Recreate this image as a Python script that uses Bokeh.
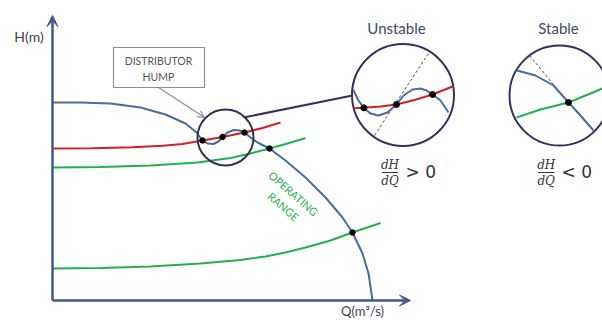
from bokeh.plotting import figure
from bokeh.models import Range1d, Arrow, VeeHead, OpenHead
from bokeh.core.properties import value
from bokeh.embed import file_html
from bokeh.resources import INLINE

# ---- main diagram (Q, H in drawing units) ----
axis_q = [0, 358]
axis_h = [0, 285]

pump_q = [0, 28, 58, 88, 113, 133, 138, 144, 150, 155, 161, 166, 170, 175, 181, 187,
          192, 198, 205, 211, 217, 233, 253, 273, 290, 300, 310, 316, 319, 320]
pump_h = [198, 198, 197, 193, 186, 177, 173, 168, 160, 157, 156.5, 159, 163, 168, 170.5, 170,
          168, 163, 158, 155, 152, 140, 123, 103, 83, 68, 47, 27, 7, 0]

system_red_q = [0, 40, 80, 110, 130, 150, 170, 192, 210, 228]
system_red_h = [152, 152.3, 153.2, 154.8, 156.5, 160, 163.5, 168, 172.5, 178]

system_g1_q = [0, 48, 98, 145, 178, 198, 217, 235, 253]
system_g1_h = [133, 133.5, 135, 138, 142.5, 147, 152, 157, 162.5]

system_g2_q = [0, 48, 98, 148, 188, 213, 233, 253, 278, 300, 328]
system_g2_h = [32, 32.5, 34, 37, 40.5, 44, 48, 53, 60, 68, 77.5]

op_q = [150, 170, 192, 217, 300]
op_h = [160, 163.5, 168, 152, 68]

# zoom circles: hump, unstable, stable
circ_q = [173, 350.5, 507]
circ_h = [163, 205.5, 205]
circ_r = [28, 51, 50]

link_q = [191, 300]
link_h = [183, 205]

callout_box = dict(left=61, right=152, bottom=213, top=253)
callout_arrow_q = [106, 152]
callout_arrow_h = [213, 183]

# ---- unstable inset ----
un_blue_q = [300.7, 306, 311.3, 318, 326, 335, 344, 351, 360, 368, 374, 380, 388, 396]
un_blue_h = [210.7, 200, 192.7, 187, 185, 188, 196, 205, 211, 212, 210, 206, 200, 188]
un_red_q = [301, 311.3, 328, 344, 362, 380, 400]
un_red_h = [192.3, 192.7, 194, 196, 200.5, 206, 214]
un_dot_q = [311.3, 344, 380]
un_dot_h = [192.7, 196, 206]
un_dash_q = [322, 376]
un_dash_h = [165, 247]

# ---- stable inset ----
st_blue_q = [464.7, 483, 501, 516, 528, 541]
st_blue_h = [230, 225, 215, 198, 185, 170]
st_green_q = [464, 488, 516, 538, 550]
st_green_h = [183, 191, 198, 207, 212]
st_dot_q = [516]
st_dot_h = [198]
st_dash_q = [477, 501]
st_dash_h = [245, 216]

AXIS = "#3d5b85"
BLUE = "#4a6c9c"
RED = "#d41f26"
GREEN = "#22b14c"
PURPLE = "#3a2e58"
TXT = "#3f4a66"
FONT = value("Lato")

p = figure(width=602, height=320, x_range=Range1d(-52, 550), y_range=Range1d(-20, 300),
           output_backend="svg", toolbar_location=None, min_border=0,
           x_axis_type=None, y_axis_type=None)
p.grid.visible = False
p.outline_line_color = None
p.background_fill_color = "white"

# axes with arrow heads
p.add_layout(Arrow(end=VeeHead(size=11, fill_color=AXIS, line_color=AXIS, line_width=1),
                   x_start=axis_q[0], y_start=axis_h[0], x_end=axis_q[0], y_end=axis_h[1],
                   line_color=AXIS, line_width=2.5))
p.add_layout(Arrow(end=VeeHead(size=11, fill_color=AXIS, line_color=AXIS, line_width=1),
                   x_start=axis_q[0], y_start=axis_h[0], x_end=axis_q[1], y_end=axis_h[0],
                   line_color=AXIS, line_width=2.5))

# system curves
p.line(system_g2_q, system_g2_h, line_color=GREEN, line_width=2)
p.line(system_g1_q, system_g1_h, line_color=GREEN, line_width=2)
p.line(system_red_q, system_red_h, line_color=RED, line_width=2)
# pump curve
p.line(pump_q, pump_h, line_color=BLUE, line_width=2, line_join="round")
p.scatter(op_q, op_h, size=5.5, color="black")

# callout box
p.quad(fill_color="white", line_color="#8e8e8e", line_width=1.2, **callout_box)
p.text(x=[106, 106], y=[240, 224], text=["DISTRIBUTOR", "HUMP"], text_font=FONT,
       text_font_size=value("10.5px"), text_color="#555555", text_align="center",
       text_baseline="middle")
p.add_layout(Arrow(end=OpenHead(size=7, line_color="#8a8a94", line_width=1.2),
                   x_start=callout_arrow_q[0], y_start=callout_arrow_h[0],
                   x_end=callout_arrow_q[1], y_end=callout_arrow_h[1],
                   line_color="#8a8a94", line_width=1.2))

# link line and circles
p.line(link_q, link_h, line_color=PURPLE, line_width=2)
p.circle(circ_q, circ_h, radius=circ_r, fill_color=None, line_color=PURPLE, line_width=2)

# unstable inset
p.line(un_dash_q, un_dash_h, line_color="#555555", line_width=1, line_dash="3 2")
p.line(un_red_q, un_red_h, line_color=RED, line_width=2)
p.line(un_blue_q, un_blue_h, line_color=BLUE, line_width=2, line_join="round")
p.scatter(un_dot_q, un_dot_h, size=6, color="black")

# stable inset
p.line(st_dash_q, st_dash_h, line_color="#555555", line_width=1, line_dash="3 2")
p.line(st_green_q, st_green_h, line_color=GREEN, line_width=2)
p.line(st_blue_q, st_blue_h, line_color=BLUE, line_width=2)
p.scatter(st_dot_q, st_dot_h, size=6, color="black")

# titles
p.text(x=[344, 506], y=[273, 273], text=["Unstable", "Stable"], text_font=FONT,
       text_font_size=value("15px"), text_color=TXT, text_align="center",
       text_baseline="middle")

# axis labels
p.text(x=[-23.5], y=[264], text=["H(m)"], text_font=FONT, text_font_size=value("14px"),
       text_color="#3c4150", text_align="center", text_baseline="middle")
p.text(x=[310], y=[-2.5], text=["Q(m³/s)"], text_font=FONT, text_font_size=value("13px"),
       text_color="#3c4150", text_align="center", text_baseline="top")

# operating range label
p.text(x=[241, 231], y=[107, 94], text=["OPERATING", "RANGE"], text_font=FONT,
       text_font_size=value("11px"), text_color=GREEN, text_align="center",
       text_baseline="middle", angle=-41, angle_units="deg")

# formulas
SERIF = value("DejaVu Serif")
p.text(x=[337.5, 337.5, 493.7, 493.7], y=[136, 119.5, 136, 119.5],
       text=["dH", "dQ", "dH", "dQ"], text_font=SERIF, text_font_style="italic",
       text_font_size=value("12px"), text_color="#333333", text_align="center",
       text_baseline="middle")
p.segment(x0=[329.7, 485.5], y0=[128, 128], x1=[345.3, 502], y1=[128, 128],
          line_color="#333333", line_width=1)
p.text(x=[353, 509], y=[129, 129], text=["> 0", "< 0"], text_font=value("DejaVu Sans"),
       text_font_size=value("17px"), text_color="#333333", text_align="left",
       text_baseline="middle")

open("out.html", "w").write(file_html(p, INLINE))
